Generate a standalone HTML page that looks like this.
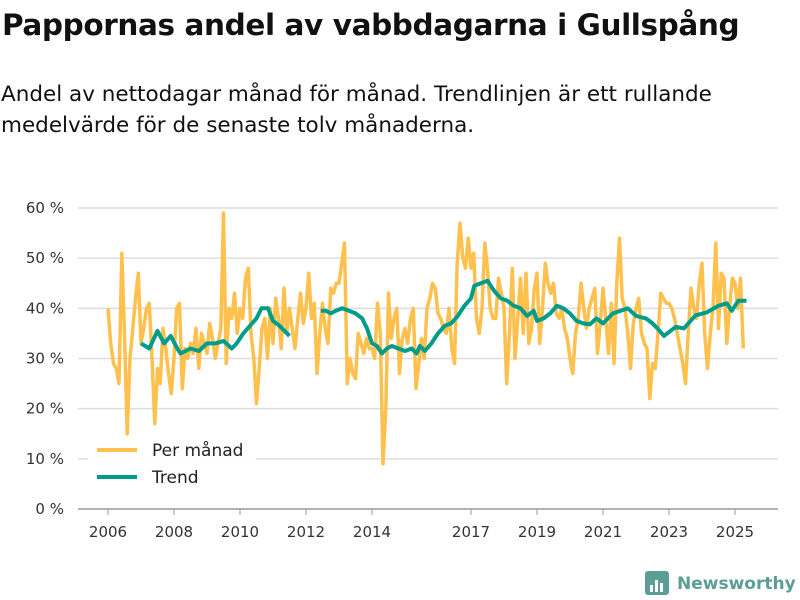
<!DOCTYPE html>
<html><head><meta charset="utf-8"><style>
body{margin:0;background:#fff;font-family:"Liberation Sans","DejaVu Sans",sans-serif;}
#wrap{position:relative;width:800px;height:600px;overflow:hidden;}
h1{position:absolute;left:2px;top:8px;margin:0;font-size:29.5px;font-weight:bold;color:#111;font-family:"DejaVu Sans","Liberation Sans",sans-serif;letter-spacing:-0.4px;}
p{position:absolute;left:1px;top:79px;margin:0;font-size:21.5px;line-height:31px;color:#111;font-family:"DejaVu Sans","Liberation Sans",sans-serif;}
svg text{font-family:"DejaVu Sans","Liberation Sans",sans-serif;}
</style></head><body>
<div id="wrap">
<h1>Pappornas andel av vabbdagarna i Gullspång</h1>
<p>Andel av nettodagar månad för månad. Trendlinjen är ett rullande<br>medelvärde för de senaste tolv månaderna.</p>
<svg id="chart" width="800" height="600" style="position:absolute;left:0;top:0"></svg>
</div>
<script>
const yTicks=[0,10,20,30,40,50,60];
const xTickYears=[2006,2008,2010,2012,2014,2017,2019,2021,2023,2025];
const startYear=2006;
const monthly=[
40,33,29,28,25,51,35,15,30,36,42,47,
33,36,40,41,30,17,28,25,36,32,27,23,
30,40,41,24,32,30,33,31,36,28,35,33,
31,37,34,30,33,36,59,29,40,38,43,35,
40,38,46,48,35,30,21,28,36,38,30,40,
33,42,38,32,44,35,40,36,32,38,43,37,
40,47,38,41,27,35,41,36,33,44,43,45,
45,49,53,25,30,27,26,35,33,31,34,32,
32,30,41,35,9,20,43,34,38,40,27,34,
36,33,38,40,24,29,34,30,40,42,45,44,
39,38,36,35,40,32,29,49,57,50,48,54,
48,51,38,35,40,53,48,40,38,38,46,43,
40,25,35,48,30,38,46,35,47,33,36,44,
47,33,40,49,45,43,45,39,38,40,36,34,
30,27,35,38,45,40,36,40,42,44,31,37,
44,38,31,41,29,45,54,42,40,35,28,37,
40,42,35,33,32,22,29,28,35,43,42,41,
41,40,38,35,32,29,25,35,44,40,38,45,
49,35,28,35,40,53,36,47,46,33,40,46,
45,40,46,32];
const trendYears=[2007.0,2007.25,2007.5,2007.7,2007.9,2008.1,2008.2,2008.5,2008.75,2009.0,2009.25,2009.5,2009.75,2009.9,2010.1,2010.3,2010.5,2010.65,2010.85,2011.0,2011.2,2011.35,2011.5,null,2012.45,2012.6,2012.75,2012.9,2013.1,2013.3,2013.5,2013.7,2013.85,2014.0,2014.15,2014.3,2014.45,2014.6,2014.8,2015.0,2015.2,2015.35,2015.45,2015.6,2015.8,2016.0,2016.2,2016.4,2016.6,2016.8,2017.0,2017.1,2017.3,2017.5,2017.7,2017.9,2018.1,2018.3,2018.5,2018.7,2018.9,2019.0,2019.2,2019.4,2019.6,2019.8,2020.0,2020.2,2020.4,2020.6,2020.8,2021.0,2021.3,2021.75,2022.0,2022.3,2022.5,2022.65,2022.85,2023.2,2023.45,2023.8,2024.15,2024.5,2024.75,2024.9,2025.1,2025.35];
const trendValues=[33,32,35.5,33,34.5,32,31,32,31.5,33,33,33.5,32,33,35,36.5,38,40,40,37.5,36.5,35.5,34.5,null,39.5,39.5,39,39.5,40,39.5,39,38,36,33,32.5,31,32,32.5,32,31.5,32,31,32.5,31.5,33,35,36.5,37,38.5,40.5,42,44.5,45,45.5,43.5,42,41.5,40.5,40,38.5,39.5,37.5,38,39,40.5,40,39,37.5,37,36.8,38,37,39,40,38.5,38,37,36,34.5,36.3,36,38.6,39.2,40.5,41,39.5,41.5,41.5];

const NS='http://www.w3.org/2000/svg';
const svg=document.getElementById('chart');
const X0=108,X1=735,Y0=509,Y60=208;
function xs(yr){return X0+(yr-2006)*(X1-X0)/19;}
function ys(v){return Y0-(v/60)*(Y0-Y60);}
function mk(tag,attrs){const e=document.createElementNS(NS,tag);for(const k in attrs)e.setAttribute(k,attrs[k]);svg.appendChild(e);return e;}

yTicks.forEach(t=>{
  const l=mk('line',{x1:78,x2:778,y1:ys(t),y2:ys(t),stroke:t===0?'#999':'#ddd','stroke-width':1.5});
  
  
  const tx=mk('text',{x:64,y:ys(t)+5,'text-anchor':'end','font-size':15,fill:'#333'});
  tx.textContent=t+' %';
  
  
});
xTickYears.forEach(yr=>{
  const l=mk('line',{x1:xs(yr),x2:xs(yr),y1:509,y2:515,stroke:'#999','stroke-width':1});
  
  
  const tx=mk('text',{x:xs(yr),y:537,'text-anchor':'middle','font-size':15,fill:'#333'});
  tx.textContent=yr;
  
  
});

let d='';
monthly.forEach((v,i)=>{const x=xs(startYear+i/12);d+=(i?'L':'M')+x.toFixed(1)+' '+ys(v).toFixed(1);});
const mp=mk('path',{d:d,fill:'none',stroke:'#ffc04d','stroke-width':3.5,'stroke-linejoin':'round'});



let td='',pen=false;
trendYears.forEach((yr,i)=>{
  if(yr===null||trendValues[i]===null){pen=false;return;}
  td+=(pen?'L':'M')+xs(yr).toFixed(1)+' '+ys(trendValues[i]).toFixed(1);pen=true;
});
const tp=mk('path',{d:td,fill:'none',stroke:'#009c8b','stroke-width':4,'stroke-linejoin':'round'});



const lb=mk('rect',{x:88,y:436,width:168,height:56,fill:'#fff','fill-opacity':0.9});


[['Per månad','#ffc04d',450],['Trend','#009c8b',477]].forEach(([n,c,y])=>{
  const l=mk('line',{x1:97,x2:137,y1:y,y2:y,stroke:c,'stroke-width':4});
  
  
  const t=mk('text',{x:152,y:y+6,'font-size':17,fill:'#222'});
  t.textContent=n;
  
  
});

const g=mk('g',{});


const r=document.createElementNS(NS,'rect');
r.setAttribute('x',645);r.setAttribute('y',571);r.setAttribute('width',24);r.setAttribute('height',24);r.setAttribute('rx',3);r.setAttribute('fill','#5a9e96');g.appendChild(r);
[[650,585,3,7],[655,580,3,12],[660,583,3,9]].forEach(b=>{const e=document.createElementNS(NS,'rect');e.setAttribute('x',b[0]);e.setAttribute('y',b[1]);e.setAttribute('width',b[2]);e.setAttribute('height',b[3]);e.setAttribute('fill','#fff');g.appendChild(e);});
const lt=document.createElementNS(NS,'text');
lt.setAttribute('x',677);lt.setAttribute('y',589);lt.setAttribute('font-size',17);lt.setAttribute('font-weight','bold');lt.setAttribute('fill','#5a9e96');
lt.textContent='Newsworthy';g.appendChild(lt);
</script>
</body></html>
